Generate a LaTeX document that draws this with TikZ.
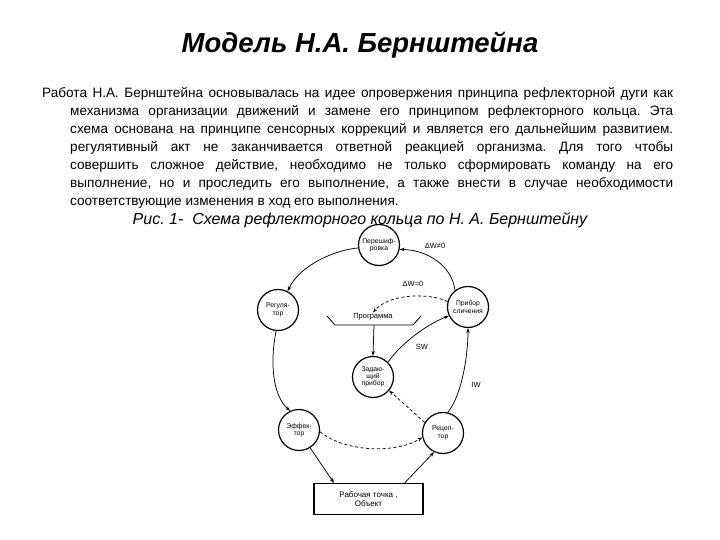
\documentclass[tikz,border=0pt]{standalone}
\usepackage{fontspec}
\setmainfont{Liberation Sans}
\frenchspacing
\usetikzlibrary{arrows.meta}
\begin{document}
\begin{tikzpicture}[x=1pt,y=-1pt,
  circ/.style={circle,draw,line width=1.2pt,minimum size=41pt,inner sep=0pt,align=center,font=\fontsize{6.8}{7.3}\selectfont},
  arr/.style={-{Stealth[length=5pt,width=3.5pt]},line width=0.75pt},
  dsh/.style={arr,dash pattern=on 3pt off 2.5pt},
  para/.style={anchor=base west,inner sep=0pt,font=\fontsize{13.6}{16}\selectfont},
  lbl/.style={inner sep=1pt,font=\fontsize{7.5}{8}\selectfont}]
\useasboundingbox (0,0) rectangle (720,540);
\node[font=\bfseries\itshape\fontsize{27.5}{31}\selectfont] (title) at (360,45) {Модель Н.А. Бернштейна};
\node[para] (l1) at (42,98) {\makebox[631pt][s]{Работа Н.А. Бернштейна основывалась на идее опровержения принципа рефлекторной дуги как}};
\node[para] (l2) at (70,116) {\makebox[603pt][s]{механизма организации движений и замене его принципом рефлекторного кольца. Эта}};
\node[para] (l3) at (70,134) {\makebox[603pt][s]{схема основана на принципе сенсорных коррекций и является его дальнейшим развитием.}};
\node[para] (l4) at (70,152) {\makebox[603pt][s]{регулятивный акт не заканчивается ответной реакцией организма. Для того чтобы}};
\node[para] (l5) at (70,170) {\makebox[603pt][s]{совершить сложное действие, необходимо не только сформировать команду на его}};
\node[para] (l6) at (70,188) {\makebox[603pt][s]{выполнение, но и проследить его выполнение, а также внести в случае необходимости}};
\node[para] (l7) at (70,206) {соответствующие изменения в ход его выполнения.};
\node[font=\itshape\fontsize{16}{18}\selectfont] (cap) at (360,220) {Рис. 1-~~Схема рефлекторного кольца по Н.~А.~Бернштейну};
% circles
\node[circ] (per) at (379,245) {Перешиф-\\ровка};
\node[circ] (reg) at (278,310) {Регуля-\\тор};
\node[circ] (pri) at (468,307) {Прибор\\сличения};
\node[circ] (zad) at (373,377) {Задаю-\\щий\\прибор};
\node[circ] (eff) at (299,430) {Эффек-\\тор};
\node[circ] (rec) at (443,433) {Рецеп-\\тор};
\node[draw,line width=1.2pt,minimum width=109pt,minimum height=31pt,align=center,font=\fontsize{8}{9.5}\selectfont] (obj) at (368.5,499) {Рабочая точка ,\\Объект};
% program
\node[inner sep=1pt,font=\fontsize{7.5}{8}\selectfont] (prog) at (373,317) {Программа};
\draw[line width=0.8pt] (327,316) -- (335,325) -- (413,325) -- (421,316);
\coordinate (pb) at (374,325);
% connectors
\draw[arr] (pri.128) .. controls (452,266) and (428,250) .. (per.-12);
\draw[arr] (per.188) .. controls (335,250) and (300,265) .. (reg.63);
\draw[arr] (reg.-95) .. controls (270,360) and (272,395) .. (eff.115);
\draw[arr] (eff.-58) -- (obj.155);
\draw[arr] (obj.24) -- (rec.-115);
\draw[arr] (rec.77) .. controls (462,395) and (468,355) .. (pri.-90);
\draw[arr] (zad.45) .. controls (400,345) and (425,325) .. (pri.-155);
\draw[arr] (pb) -- (zad.north);
\draw[dsh] (pri.165) .. controls (430,293) and (390,293) .. (prog.north);
\draw[dsh] (eff.-5) .. controls (345,452) and (395,454) .. (rec.192);
\draw[dsh] (rec.150) -- (zad.-40);
% labels
\node[lbl] (w1) at (435,246) {ΔW≠0};
\node[lbl] (w2) at (413,284) {ΔW=0};
\node[lbl] (sw) at (422,347) {SW};
\node[lbl] (iw) at (476,385) {IW};
\end{tikzpicture}
\end{document}
